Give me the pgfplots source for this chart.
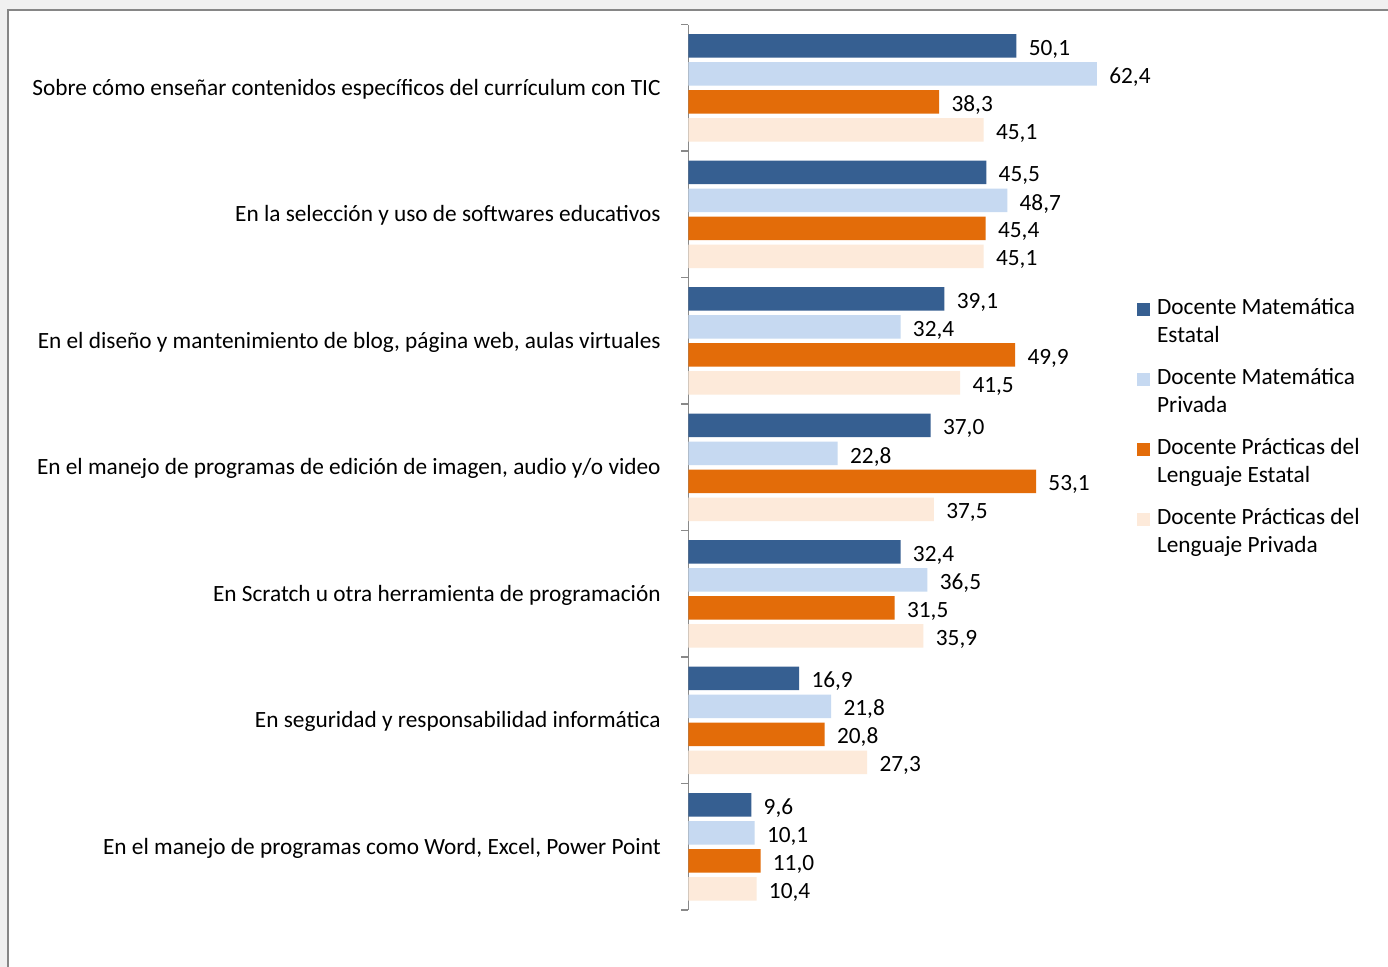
\documentclass[border=0pt]{standalone}
\usepackage{pgfplots}
\pgfplotsset{compat=1.18}
\usepackage{fontspec}
\setmainfont{Carlito}
\definecolor{c1}{HTML}{365F91}
\definecolor{c2}{HTML}{C6D9F1}
\definecolor{c3}{HTML}{E36C09}
\definecolor{c4}{HTML}{FDEADA}
\definecolor{framegray}{HTML}{868686}
\definecolor{bggray}{HTML}{F0F0F0}
\definecolor{axgray}{HTML}{898989}
\newcommand{\cf}{\fontsize{11.65}{14.15}\selectfont}
\begin{document}
\begin{tikzpicture}
\useasboundingbox (0,0) rectangle (694pt,483.5pt);
\fill[bggray] (0,0) rectangle (694pt,483.5pt);
\filldraw[fill=white, draw=framegray, line width=1pt] (3.75pt,-10pt) rectangle (710pt,478.5pt);
\begin{axis}[
  at={(344.25pt,28.5pt)}, anchor=south west,
  scale only axis, width=229.1pt, height=442.65pt,
  xmin=0, xmax=70, ymin=-0.5, ymax=6.5,
  xbar, bar width=11.75pt,
  clip=false,
  axis x line=none, axis y line*=left,
  axis line style={axgray, line width=0.7pt},
  ytick={0,...,6},
  yticklabels={{En el manejo de programas como Word, Excel, Power Point},
    {En seguridad y responsabilidad informática},
    {En Scratch u otra herramienta de programación},
    {En el manejo de programas de edición de imagen, audio y/o video},
    {En el diseño y mantenimiento de blog, página web, aulas virtuales},
    {En la selección y uso de softwares educativos},
    {Sobre cómo enseñar contenidos específicos del currículum con TIC}},
  major tick length=0pt,
  minor ytick={-0.5,0.5,...,6.5},
  minor tick length=3.5pt,
  tick align=outside,
  minor tick style={axgray, line width=0.7pt},
  yticklabel style={font=\cf, inner sep=0pt, xshift=-13.75pt, yshift=-0.6pt, text=black},
  point meta=x,
  nodes near coords={\pgfmathprintnumber[fixed,fixed zerofill,precision=1,use comma,assume math mode=true]{\pgfplotspointmeta}},
  nodes near coords style={anchor=west, inner sep=0pt, xshift=6pt, yshift=-1.6pt, font=\cf, text=black},
  legend cell align=left,
  legend style={at={(0.9788,0.6956)}, anchor=north west, draw=none, fill=none,
    inner sep=0pt, row sep=9.45pt, font=\cf, cells={align=left},
    nodes={inner sep=0pt}, column sep=3.35pt},
  sq legend/.style={legend image code/.code={\fill[##1] (0pt,2pt) rectangle (6.5pt,8.5pt);}},
]
\addplot[fill=c1, draw=none, bar shift=21pt, sq legend] coordinates {
(50.1,6) (45.5,5) (39.1,4) (37.0,3) (32.4,2) (16.9,1) (9.6,0)};
\addplot[fill=c2, draw=none, bar shift=7pt, sq legend] coordinates {
(62.4,6) (48.7,5) (32.4,4) (22.8,3) (36.5,2) (21.8,1) (10.1,0)};
\addplot[fill=c3, draw=none, bar shift=-7pt, sq legend] coordinates {
(38.3,6) (45.4,5) (49.9,4) (53.1,3) (31.5,2) (20.8,1) (11.0,0)};
\addplot[fill=c4, draw=none, bar shift=-21pt, sq legend] coordinates {
(45.1,6) (45.1,5) (41.5,4) (37.5,3) (35.9,2) (27.3,1) (10.4,0)};
\legend{{\strut Docente Matemática\\\strut Estatal},
  {\strut Docente Matemática\\\strut Privada},
  {\strut Docente Prácticas del\\\strut Lenguaje Estatal},
  {\strut Docente Prácticas del\\\strut Lenguaje Privada}}
\end{axis}
\end{tikzpicture}
\end{document}
